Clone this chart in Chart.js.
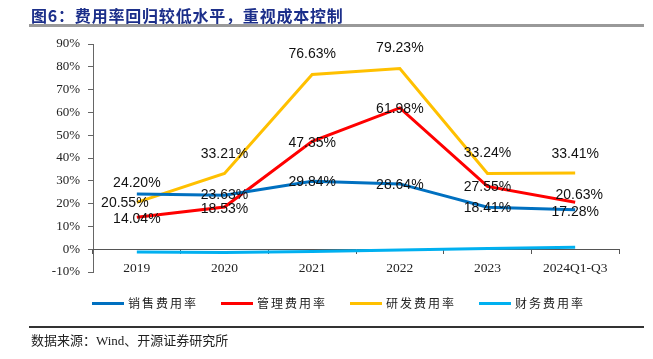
<!DOCTYPE html>
<html>
<head>
<meta charset="utf-8">
<script src="https://cdn.jsdelivr.net/npm/chart.js@4/dist/chart.umd.min.js"></script>
<style>
  html, body { margin: 0; padding: 0; background: #fff; }
  #wrap { position: relative; width: 653px; height: 359px; overflow: hidden; background: #fff; }
  #c { position: absolute; left: 0; top: 0; }
  #title { position: absolute; left: 31px; top: 3px; font: bold 16px "Noto Sans CJK SC", sans-serif; letter-spacing: 0.8px; color: #1c2f8a; white-space: nowrap; }
  #tline { position: absolute; left: 29px; top: 24px; width: 615px; height: 3px; background: #999; }
  #legend { position: absolute; left: 0; top: 294px; width: 653px; height: 18px; }
  .li { position: absolute; top: 0; height: 18px; white-space: nowrap; }
  .li span.sw { position: absolute; left: 0; top: 8px; width: 32px; height: 3px; }
  .li span.tx { position: absolute; left: 36px; top: 0; font: 12px "Noto Sans CJK SC", sans-serif; letter-spacing: 2px; color: #222; line-height: 18px; }
  #fline { position: absolute; left: 29px; top: 326px; width: 615px; height: 1.5px; background: #333; }
  #src { position: absolute; left: 31px; top: 330px; font: 13px "Liberation Serif", "Noto Sans CJK SC", serif; color: #222; white-space: nowrap; }
</style>
</head>
<body>
<div id="wrap">
  <canvas id="c" width="653" height="359"></canvas>
  <div id="title">图6：费用率回归较低水平，重视成本控制</div>
  <div id="tline"></div>
  <div id="legend"></div>
  <div id="fline"></div>
  <div id="src">数据来源：Wind、开源证券研究所</div>
</div>
<script>
// ---- data ----
const categories = ['2019', '2020', '2021', '2022', '2023', '2024Q1-Q3'];
const seriesNames = ['销售费用率', '管理费用率', '研发费用率', '财务费用率'];
const salesRate = [24.20, 23.63, 29.84, 28.64, 18.41, 17.28];
const mgmtRate  = [14.04, 18.53, 47.35, 61.98, 27.55, 20.63];
const rdRate    = [20.55, 33.21, 76.63, 79.23, 33.24, 33.41];
const finRate   = [-1.2, -1.5, -1.0, -0.4, 0.3, 0.9];
const yTickMin = -10, yTickMax = 90, yTickStep = 10;

// ---- styles ----
const colors = ['#0070C0', '#FF0000', '#FFC000', '#00B0F0'];
const labelOffsets = [
  [[0,-11],[0,0],[0,1],[0,1],[0,1],[0,2]],
  [[0,2],[0,2],[0,2],[0,1],[0,1],[4,-7]],
  [[-12,1],[0,-19],[0,-20],[0,-20],[0,-20],[0,-19]],
  null
];

const seriesData = [salesRate, mgmtRate, rdRate, finRate];

// legend
const legend = document.getElementById('legend');
seriesNames.forEach((n, i) => {
  const d = document.createElement('div');
  d.className = 'li';
  d.style.left = (92 + i * 129) + 'px';
  d.innerHTML = '<span class="sw" style="background:' + colors[i] + '"></span><span class="tx">' + n + '</span>';
  legend.appendChild(d);
});

const labelPlugin = {
  id: 'valueLabels',
  afterDatasetsDraw(chart) {
    const ctx = chart.ctx;
    ctx.save();
    ctx.font = '14px "Liberation Sans", Arial, sans-serif';
    ctx.fillStyle = '#111';
    ctx.textAlign = 'center';
    ctx.textBaseline = 'middle';
    chart.data.datasets.forEach((ds, di) => {
      const offs = labelOffsets[di];
      if (!offs) return;
      const meta = chart.getDatasetMeta(di);
      meta.data.forEach((pt, i) => {
        const v = ds.data[i];
        ctx.fillText(v.toFixed(2) + '%', pt.x + offs[i][0], pt.y + offs[i][1]);
      });
    });
    ctx.restore();
  }
};

new Chart(document.getElementById('c'), {
  type: 'line',
  data: {
    labels: categories,
    datasets: seriesNames.map((n, i) => ({
      label: n,
      data: seriesData[i],
      borderColor: colors[i],
      backgroundColor: colors[i],
      borderWidth: 3,
      pointRadius: 0,
      tension: 0,
      fill: false
    }))
  },
  options: {
    responsive: false,
    animation: false,
    devicePixelRatio: 1,
    layout: { padding: { left: 0, top: 44, right: 34, bottom: 87 } },
    plugins: { legend: { display: false }, tooltip: { enabled: false }, title: { display: false } },
    scales: {
      y: {
        min: yTickMin, max: yTickMax,
        afterFit(scale) { scale.width = 93; },
        ticks: {
          stepSize: yTickStep,
          padding: 8,
          color: '#222',
          font: { family: '"Liberation Serif", "Times New Roman", serif', size: 13 },
          callback: v => v + '%'
        },
        grid: { display: true, drawOnChartArea: false, drawTicks: true, tickLength: 5, color: '#666' },
        border: { display: true, color: '#666', width: 1 }
      },
      x: {
        position: { y: 0 },
        offset: true,
        ticks: {
          padding: 7,
          color: '#222',
          maxRotation: 0,
          font: { family: '"Liberation Serif", "Times New Roman", serif', size: 13.5 }
        },
        grid: { display: true, offset: true, drawOnChartArea: false, drawTicks: true, tickLength: 4, color: '#555' },
        border: { display: true, color: '#555', width: 1 }
      }
    }
  },
  plugins: [labelPlugin]
});
</script>
</body>
</html>
